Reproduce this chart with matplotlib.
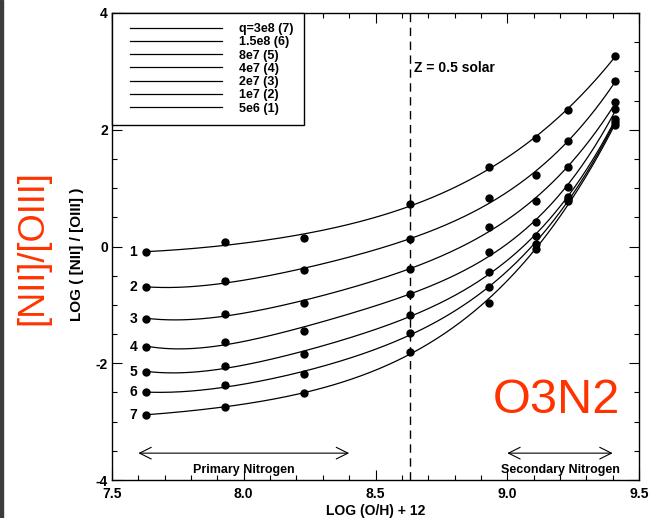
import numpy as np
import matplotlib
matplotlib.use("Agg")
import matplotlib.pyplot as plt
from matplotlib.lines import Line2D
from matplotlib.legend_handler import HandlerLine2D
from matplotlib.patches import Rectangle
from matplotlib.ticker import MultipleLocator

plt.rcParams["font.family"] = ["Liberation Sans", "DejaVu Sans"]
plt.rcParams["axes.unicode_minus"] = False

# ── data ─────────────────────────────────────────────────────────────────────
LOG_OH = [7.63, 7.93, 8.23, 8.63, 8.93, 9.11, 9.23, 9.41]
N2O3_1 = [-0.10, 0.07, 0.15, 0.72, 1.36, 1.86, 2.34, 3.27]
N2O3_2 = [-0.70, -0.59, -0.41, 0.12, 0.83, 1.22, 1.80, 2.84]
N2O3_3 = [-1.24, -1.15, -0.97, -0.38, 0.33, 0.78, 1.36, 2.47]
N2O3_4 = [-1.72, -1.63, -1.44, -0.81, -0.09, 0.42, 1.02, 2.35]
N2O3_5 = [-2.15, -2.04, -1.85, -1.18, -0.43, 0.18, 0.84, 2.19]
N2O3_6 = [-2.50, -2.38, -2.18, -1.48, -0.69, 0.04, 0.81, 2.14]
N2O3_7 = [-2.88, -2.75, -2.51, -1.80, -0.96, -0.04, 0.78, 2.08]
CURVES = [N2O3_1, N2O3_2, N2O3_3, N2O3_4, N2O3_5, N2O3_6, N2O3_7]
CURVE_IDS = ["1", "2", "3", "4", "5", "6", "7"]
Q_LABELS = ["q=3e8 (7)", "1.5e8 (6)", "8e7 (5)", "4e7 (4)", "2e7 (3)", "1e7 (2)", "5e6 (1)"]
Z_HALF = 8.63

RED = "#ff3300"

fig = plt.figure(figsize=(6.53, 5.18), dpi=100)
ax = fig.add_axes([112 / 653, 38 / 518, 527 / 653, 467 / 518])

# smooth least-squares curve through each model sequence
xs = np.linspace(LOG_OH[0], LOG_OH[-1], 300)
for cid, yv in zip(CURVE_IDS, CURVES):
    fit = np.polynomial.Polynomial.fit(LOG_OH, yv, 4)
    ax.plot(xs, fit(xs), color="black", lw=0.9)
    ax.plot(LOG_OH, yv, "o", color="black", ms=5)
    ax.text(LOG_OH[0] - 0.035, yv[0], cid, ha="right", va="center",
            fontsize=10, fontweight="bold")

ax.axvline(Z_HALF, color="black", lw=1.0, ls=(0, (6, 4)))
ax.text(Z_HALF + 0.015, 3.06, "Z = 0.5 solar", fontsize=10, fontweight="bold",
        ha="left", va="center")

# nitrogen regimes
arw = dict(arrowstyle="<->,head_length=0.6,head_width=0.3", lw=0.8, color="black",
           shrinkA=0, shrinkB=0, mutation_scale=14)
ax.annotate("", xy=(8.40, -3.54), xytext=(7.60, -3.54), arrowprops=arw)
ax.annotate("", xy=(9.40, -3.54), xytext=(9.00, -3.54), arrowprops=arw)
ax.text(8.0, -3.83, "Primary Nitrogen", ha="center", va="center", fontsize=9, fontweight="bold")
ax.text(9.2, -3.83, "Secondary Nitrogen", ha="center", va="center", fontsize=9, fontweight="bold")

ax.text(9.187, -2.85, "O3N2", color=RED, fontsize=35, ha="center", va="baseline")

ax.set_xlim(7.5, 9.5); ax.set_ylim(-4, 4)
ax.xaxis.set_major_locator(MultipleLocator(0.5)); ax.xaxis.set_minor_locator(MultipleLocator(0.1))
ax.yaxis.set_major_locator(MultipleLocator(2)); ax.yaxis.set_minor_locator(MultipleLocator(0.5))
ax.tick_params(which="both", direction="in", top=True, right=True, width=0.8, labelsize=10)
ax.tick_params(which="major", length=7.5)
ax.tick_params(which="minor", length=3.6)
ax.tick_params(axis="x", pad=5)
ax.tick_params(axis="y", pad=3)
for lab in ax.get_xticklabels() + ax.get_yticklabels():
    lab.set_fontweight("bold")
for sp in ax.spines.values():
    sp.set_linewidth(1.0)

ax.set_xlabel("LOG (O/H) + 12", fontsize=10, fontweight="bold", labelpad=2)
ax.set_ylabel("LOG ( [NII] / [OIII] )", fontsize=11, fontweight="bold")
ax.yaxis.set_label_coords(-0.053, 0.484)

fig.text(0.0505, 0.523, "[NII]/[OIII]", color=RED, fontsize=26, rotation=90,
         ha="center", va="center")

handles = [Line2D([], [], color="black", lw=0.9) for _ in Q_LABELS]
leg = ax.legend(handles, Q_LABELS, loc="upper left", borderaxespad=0, fancybox=False,
                edgecolor="black", framealpha=1, handlelength=8.0, handletextpad=1.38,
                borderpad=0.8, labelspacing=0.1,
                prop=dict(size=9, weight="bold"),
                handler_map={Line2D: HandlerLine2D(xpad=0.65)})
leg.get_frame().set_linewidth(1.0)

fig.patches.append(Rectangle((0, 0), 3 / 653, 1, transform=fig.transFigure,
                             color="#3c3c3c", zorder=0))

fig.savefig("out.png", dpi=100)
